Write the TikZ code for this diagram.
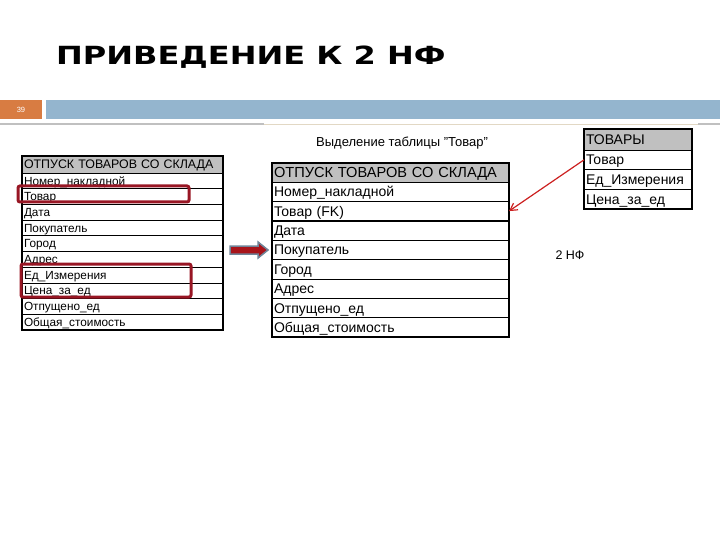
\documentclass[tikz,border=0pt]{standalone}
\usepackage{fontspec}
\setmainfont{Liberation Sans}
\newfontfamily\titlefont[FakeStretch=1.28]{DejaVu Sans}
\usetikzlibrary{positioning,arrows.meta}
\definecolor{barorange}{RGB}{216,124,66}
\definecolor{barblue}{RGB}{148,181,206}
\definecolor{rulegray}{RGB}{192,192,192}
\definecolor{rulebeige}{RGB}{226,216,196}
\definecolor{hdrgray}{RGB}{192,192,192}
\definecolor{hlred}{RGB}{152,22,36}
\definecolor{linkred}{RGB}{204,32,32}
\definecolor{bigred}{RGB}{168,20,26}
\definecolor{bigedge}{RGB}{112,132,152}

\begin{document}
\begin{tikzpicture}[x=1pt,y=-1pt,
                  cell/.style={draw,line width=0.8pt,outer sep=0pt,inner xsep=2pt,inner ysep=0pt,align=left,anchor=north west},
                  lcell/.style={cell,text width=197pt,minimum height=15.7pt,text height=11.4pt,text depth=3pt,font=\fontsize{11.8}{12}\selectfont},
                  mcell/.style={cell,text width=233pt,minimum height=19.4pt,text height=13.6pt,text depth=3.5pt,font=\fontsize{14}{15}\selectfont},
                  rcell/.style={cell,text width=104pt,minimum height=19.7pt,text height=13.5pt,text depth=3.5pt,font=\fontsize{14}{15}\selectfont},
                  frame/.style={draw,line width=2pt},
                  keyline/.style={line width=2.4pt},
                  hl/.style={draw=hlred,line width=3pt,rounded corners=2pt},
                  link/.style={draw=linkred,line width=1.2pt,-{Straight Barb[length=7pt,width=8pt]}}
                ]
                \useasboundingbox (0,0) rectangle (720,540);
                % title and slide bar
                \node[anchor=base west,inner sep=0pt,font=\titlefont\bfseries\fontsize{25}{28}\selectfont] (title) at (56,65) {ПРИВЕДЕНИЕ К 2 НФ};
                \fill[barorange] (0,100) rectangle (42,119);
                \fill[barblue] (46,100) rectangle (720,119);
                \node[text=white,font=\fontsize{7.5}{8}\selectfont] (pagenum) at (21,110) {39};
                \draw[rulegray,line width=2pt] (0,124) -- (264,124);
                \draw[rulegray,line width=2pt] (698,124) -- (720,124);
                \draw[rulebeige,line width=0.6pt] (264,124) -- (698,124);

                % source table
                \node[lcell,fill=hdrgray,minimum height=17pt,font=\fontsize{12.4}{13}\selectfont] (lh) at (22,156) {ОТПУСК ТОВАРОВ СО СКЛАДА};
                \node[lcell,below=0pt of lh] (l1) {Номер\_накладной};
                \node[lcell,below=0pt of l1] (l2) {Товар};
                \node[lcell,below=0pt of l2] (l3) {Дата};
                \node[lcell,below=0pt of l3] (l4) {Покупатель};
                \node[lcell,below=0pt of l4] (l5) {Город};
                \node[lcell,below=0pt of l5] (l6) {Адрес};
                \node[lcell,below=0pt of l6] (l7) {Ед\_Измерения};
                \node[lcell,below=0pt of l7] (l8) {Цена\_за\_ед};
                \node[lcell,below=0pt of l8] (l9) {Отпущено\_ед};
                \node[lcell,below=0pt of l9] (l10) {Общая\_стоимость};
                \draw[frame] (lh.north west) rectangle (l10.south east);
                \draw[line width=1.6pt] (l2.south west) -- (l2.south east);
                \draw[hl] (18,186) rectangle (189,202);
                \draw[hl] (21,264) rectangle (191,297);

                % big arrow
                \filldraw[fill=bigred,draw=bigedge,line width=1.5pt] (230,246) -- (258,246) -- (258,242) -- (268,250) -- (258,258) -- (258,254) -- (230,254) -- cycle;

                % reduced table
                \node[font=\fontsize{13}{14}\selectfont] (cap) at (402,143) {Выделение таблицы "Товар"};
                \node[mcell,fill=hdrgray,minimum height=19pt,font=\fontsize{14.6}{15}\selectfont] (mh) at (272,163) {ОТПУСК ТОВАРОВ СО СКЛАДА};
                \node[mcell,below=0pt of mh] (m1) {Номер\_накладной};
                \node[mcell,below=0pt of m1] (m2) {Товар (FK)};
                \node[mcell,below=0pt of m2] (m3) {Дата};
                \node[mcell,below=0pt of m3] (m4) {Покупатель};
                \node[mcell,below=0pt of m4] (m5) {Город};
                \node[mcell,below=0pt of m5] (m6) {Адрес};
                \node[mcell,below=0pt of m6] (m7) {Отпущено\_ед};
                \node[mcell,below=0pt of m7] (m8) {Общая\_стоимость};
                \draw[frame,line width=2.4pt] (mh.north west) rectangle (m8.south east);
                \draw[keyline] (m2.south west) -- (m2.south east);

                % new table
                \node[rcell,fill=hdrgray,minimum height=21pt] (rh) at (584,129) {ТОВАРЫ};
                \node[rcell,below=0pt of rh] (r1) {Товар};
                \node[rcell,below=0pt of r1] (r2) {Ед\_Измерения};
                \node[rcell,below=0pt of r2] (r3) {Цена\_за\_ед};
                \draw[frame] (rh.north west) rectangle (r3.south east);

                \draw[link] (r1.west) -- (m2.east);
                \node[font=\fontsize{12.5}{14}\selectfont] (nf) at (570,255) {2 НФ};
                \end{tikzpicture}
\end{document}
